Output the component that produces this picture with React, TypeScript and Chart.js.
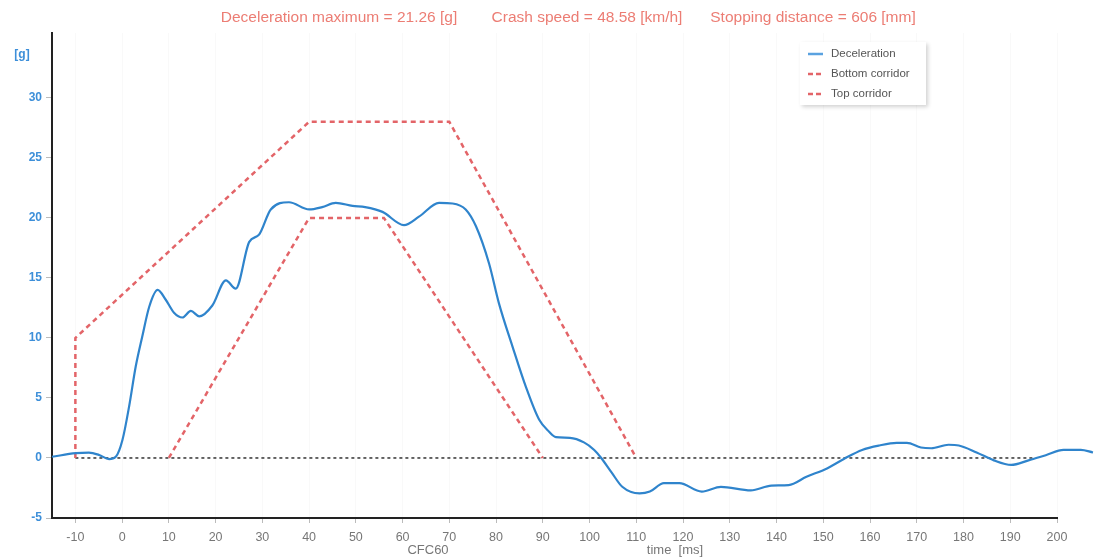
import React, { useEffect, useRef } from 'react';
import { Chart, registerables } from 'chart.js';

Chart.register(...registerables);

// ---- data ----
const timeMs = [
  -15, -9.9, -7.1, -4.9, -2.8, -1.35, 0.07, 1.5, 2.9, 4.3, 5.8, 7.6, 9.3, 11.1, 12.9, 14.7, 16.5, 19.3,
  22.2, 24.3, 27.2, 29.3, 31.8, 35.7, 40, 42.8, 45.7, 49.3, 52, 55.7, 60.3, 63.5, 67.8, 70.7, 73.5, 75.7,
  78.5, 80.6, 83.5, 86.4, 89.2, 91.3, 92.8, 95.8, 98.8, 101, 102.5, 104.7, 107, 110.7, 112.9, 115.9,
  119.2, 124, 128.1, 134.5, 138.9, 142.6, 146.4, 150.8, 154.5, 158.3, 162, 165.7, 167.9, 170.9, 173.1,
  176.8, 179, 182.8, 186.5, 190.2, 193.9, 197.6, 201.4, 205.1, 207.7,
];
const decelG = [
  0.1, 0.4, 0.45, 0.25, -0.1, 0.1, 1.5, 4.3, 7.6, 10.1, 12.6, 14.0, 13.2, 12.1, 11.7, 12.25, 11.8, 12.7,
  14.8, 14.1, 18.0, 18.6, 20.7, 21.3, 20.7, 20.9, 21.25, 21.0, 20.9, 20.5, 19.4, 20.1, 21.25, 21.2, 20.7,
  19.3, 16.2, 12.9, 9.3, 5.9, 3.2, 2.2, 1.74, 1.68, 1.3, 0.67, 0, -1.2, -2.4, -2.95, -2.8, -2.1, -2.1,
  -2.8, -2.4, -2.7, -2.3, -2.26, -1.57, -0.87, -0.06, 0.67, 1.04, 1.25, 1.25, 0.87, 0.81, 1.1, 1.04, 0.46,
  -0.2, -0.58, -0.2, 0.23, 0.67, 0.67, 0.46,
];

const topCorridorX = [-10, -10, 40, 70, 110];
const topCorridorY = [0, 10, 28, 28, 0];
const bottomCorridorX = [10, 40, 56, 90];
const bottomCorridorY = [0, 20, 20, 0];
const zeroLineX = [-10, 195];
const zeroLineY = [0, 0];

const xTickValues = [-10, 0, 10, 20, 30, 40, 50, 60, 70, 80, 90, 100, 110, 120, 130, 140, 150, 160, 170, 180, 190, 200];
const yTickValues = [-5, 0, 5, 10, 15, 20, 25, 30];
const xRange = [-15, 200];
const yRange = [-5, 35.4];

const titleParts = [
  'Deceleration maximum = 21.26 [g]',
  'Crash speed = 48.58 [km/h]',
  'Stopping distance = 606 [mm]',
];
const yUnitLabel = '[g]';
const xTitleLeft = 'CFC60';
const xTitleRight = 'time  [ms]';

const FONT = '"Liberation Sans", Arial, sans-serif';

const pairs = (xs: number[], ys: number[]) => xs.map((x, i) => ({ x, y: ys[i] }));

const overlayPlugin = {
  id: 'overlay',
  afterDraw(chart: any) {
    const ctx = chart.ctx as CanvasRenderingContext2D;
    ctx.save();
    // title
    ctx.font = `15.5px ${FONT}`;
    ctx.fillStyle = '#ec7d74';
    ctx.textBaseline = 'middle';
    ctx.textAlign = 'center';
    const titleCx = [339, 587, 813];
    titleParts.forEach((t, i) => ctx.fillText(t, titleCx[i], 18));

    // y unit
    ctx.font = `bold 12px ${FONT}`;
    ctx.fillStyle = '#3d8fd9';
    ctx.textAlign = 'center';
    ctx.fillText(yUnitLabel, 22, 55);

    // x axis titles
    ctx.font = `13px ${FONT}`;
    ctx.fillStyle = '#777';
    ctx.fillText(xTitleLeft, 428, 550);
    ctx.fillText(xTitleRight, 675, 550);

    // legend
    const lx = 800, ly = 42, lw = 126, lh = 63;
    ctx.save();
    ctx.shadowColor = 'rgba(0,0,0,0.18)';
    ctx.shadowBlur = 4;
    ctx.shadowOffsetX = 2;
    ctx.shadowOffsetY = 2;
    ctx.fillStyle = '#fff';
    ctx.fillRect(lx, ly, lw, lh);
    ctx.restore();
    const items = chart.data.datasets.filter((d: any) => d.label);
    items.forEach((d: any, i: number) => {
      const y = 54 + i * 20;
      ctx.strokeStyle = d.legendColor || d.borderColor;
      ctx.lineWidth = 2.5;
      ctx.setLineDash(d.borderDash && d.borderDash.length ? [5, 3] : []);
      ctx.beginPath();
      ctx.moveTo(808, y);
      ctx.lineTo(823, y);
      ctx.stroke();
      ctx.setLineDash([]);
      ctx.font = `11.5px ${FONT}`;
      ctx.fillStyle = '#555';
      ctx.textAlign = 'left';
      ctx.textBaseline = 'middle';
      ctx.fillText(d.label, 831, y);
    });
    ctx.restore();
  },
};

export default function App() {
  const ref = useRef<HTMLCanvasElement | null>(null);

  useEffect(() => {
    if (!ref.current) return;
    const chart = new Chart(ref.current, {
      type: 'line',
      data: {
        datasets: [
          {
            label: 'Deceleration',
            data: pairs(timeMs, decelG),
            borderColor: '#2f84cc',
            legendColor: '#5aa2e0',
            borderWidth: 2.2,
            pointRadius: 0,
            tension: 0.4,
            cubicInterpolationMode: 'monotone',
            clip: false,
          } as any,
          {
            label: 'Bottom corridor',
            data: pairs(bottomCorridorX, bottomCorridorY),
            borderColor: '#e36468',
            borderWidth: 2.5,
            borderDash: [5, 4],
            pointRadius: 0,
            tension: 0,
          },
          {
            label: 'Top corridor',
            data: pairs(topCorridorX, topCorridorY),
            borderColor: '#e36468',
            borderWidth: 2.5,
            borderDash: [5, 4],
            pointRadius: 0,
            tension: 0,
          },
          {
            label: '',
            data: pairs(zeroLineX, zeroLineY),
            borderColor: '#333',
            borderWidth: 1.5,
            borderDash: [3, 3],
            pointRadius: 0,
            tension: 0,
          },
        ],
      },
      options: {
        animation: false,
        responsive: false,
        maintainAspectRatio: false,
        layout: { padding: { top: 33, right: 38, left: 0, bottom: 0 } },
        plugins: {
          legend: { display: false },
          tooltip: { enabled: false },
          title: { display: false },
        },
        scales: {
          x: {
            type: 'linear',
            bounds: 'data',
            afterDataLimits: (axis: any) => {
              axis.min = xRange[0];
              axis.max = xRange[1];
            },
            afterFit: (s: any) => {
              s.height = 42;
            },
            afterBuildTicks: (axis: any) => {
              axis.ticks = xTickValues.map((v) => ({ value: v }));
            },
            border: { display: true, color: '#222', width: 2 },
            grid: {
              color: 'rgba(0,0,0,0.025)',
              tickColor: '#bbb',
              tickLength: 5,
              drawOnChartArea: true,
            },
            ticks: {
              color: '#777',
              font: { family: FONT, size: 12.5 },
              padding: 7,
              maxRotation: 0,
              autoSkip: false,
            },
          },
          y: {
            type: 'linear',
            bounds: 'data',
            afterDataLimits: (axis: any) => {
              axis.min = yRange[0];
              axis.max = yRange[1];
            },
            afterFit: (s: any) => {
              s.width = 52;
            },
            afterBuildTicks: (axis: any) => {
              axis.ticks = yTickValues.map((v) => ({ value: v }));
            },
            border: { display: true, color: '#222', width: 2 },
            grid: {
              drawOnChartArea: false,
              tickColor: '#bbb',
              tickLength: 6,
            },
            ticks: {
              color: '#3d8fd9',
              font: { family: FONT, size: 12, weight: 'bold' },
              padding: 4,
              autoSkip: false,
            },
          },
        },
      },
      plugins: [overlayPlugin],
    } as any);
    return () => chart.destroy();
  }, []);

  return (
    <div style={{ position: 'fixed', left: 0, top: 0, width: 1095, height: 560, background: '#fff' }}>
      <canvas ref={ref} width={1095} height={560} style={{ display: 'block' }} />
    </div>
  );
}
